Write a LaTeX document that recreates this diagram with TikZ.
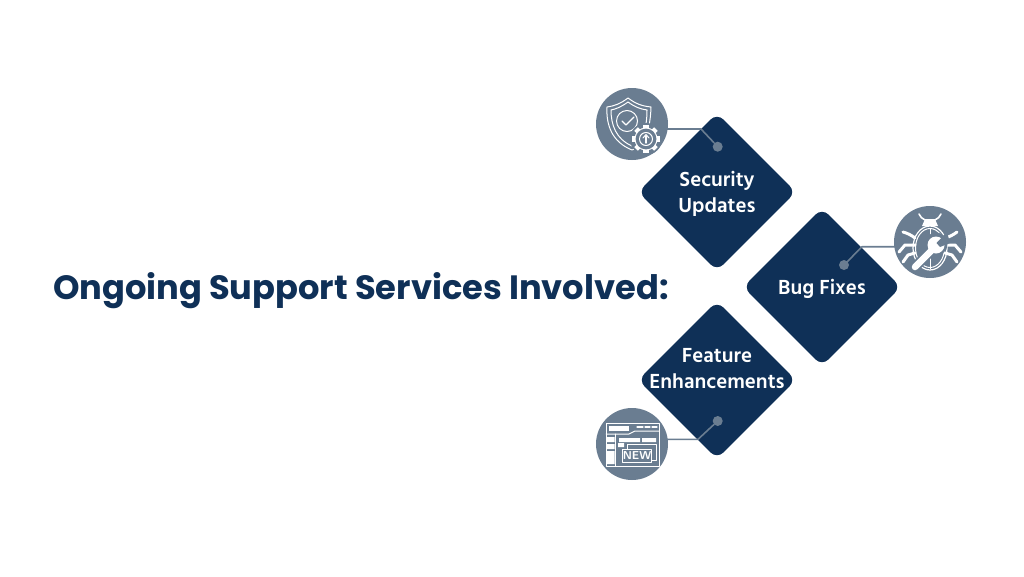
\documentclass[tikz,border=0pt]{standalone}
\usepackage{fontspec}
\setmainfont{Poppins}
\newfontfamily\labelfont{Hind Siliguri}
\usetikzlibrary{shapes.geometric}
\definecolor{navy}{HTML}{0F3057}
\definecolor{slate}{HTML}{6A7D91}
\tikzset{
	tile/.style={shape=diamond, aspect=1, fill=navy, inner sep=0pt, minimum size=158pt, rounded corners=9pt},
	tiletext/.style={text=white, align=center, font=\labelfont\bfseries\fontsize{20.9}{26}\selectfont},
	badge/.style={shape=circle, fill=slate, inner sep=0pt, minimum size=72pt},
	pin/.style={shape=circle, fill=slate, inner sep=0pt, minimum size=10pt},
	lead/.style={slate, line width=1.6pt},
	ink/.style={white, line width=1pt}
}
\begin{document}
\begin{tikzpicture}[x=1pt, y=-1pt, line join=round, line cap=round]
	\useasboundingbox (0,0) rectangle (1024,576);
	\node[anchor=west, text=navy, font=\bfseries\fontsize{33.7}{40}\selectfont] (title) at (49.5,291) {Ongoing Support Services Involved:};
	\node[tile] (security) at (717,192) {};
	\node[tile] (bugs) at (822,287) {};
	\node[tile] (feature) at (717,380) {};
	\node[tiletext] (securitytext) at (717,194) {Security\\Updates};
	\node[tiletext] (bugstext) at (822,288.5) {Bug Fixes};
	\node[tiletext] (featuretext) at (717,369) {Feature\\Enhancements};
	\node[badge] (shieldbadge) at (632,124) {};
	\node[badge] (bugbadge) at (930,242) {};
	\node[badge] (newbadge) at (632,444) {};
	\node[pin] (securitypin) at (717.7,146.7) {};
	\node[pin] (bugspin) at (844,265) {};
	\node[pin] (featurepin) at (717.7,421) {};
	\coordinate (E1) at (701,129); \coordinate (E2) at (862,246.7); \coordinate (E3) at (698,439.3);
	\draw[lead] (shieldbadge.center |- E1) ++(35,0) -- (E1) -- (securitypin);
	\draw[lead] (bugbadge.center |- E2) ++(-35,0) -- (E2) -- (bugspin);
	\draw[lead] (newbadge.center |- E3) ++(35,0) -- (E3) -- (featurepin);
	% shield
	\draw[ink] (628,98) .. controls (620,104) and (614,106) .. (607,107) .. controls (606,125) and (612,142) .. (632,150) .. controls (642,147) and (650,136) .. (651,107) .. controls (642,106) and (636,104) .. (628,98) -- cycle;
	\draw[ink] (628,102) .. controls (621,107) and (616,109) .. (611,110) .. controls (611,125) and (616,139) .. (632,146) .. controls (640,143) and (647,133) .. (647,110) .. controls (640,109) and (635,107) .. (628,102) -- cycle;
	\draw[ink] (627,121) circle (10.5);
	\draw[ink, line width=1.3pt] (622,121) -- (626,125) -- (634,117);
	\fill[slate] (646,139) circle (16);
	\foreach \ang in {0,45,...,315} \fill[white] (646,139) ++(\ang:10) ++(\ang+90:2.6) -- ++(\ang:4) -- ++(\ang-90:5.2) -- ++(\ang:-4) -- cycle;
	\fill[white] (646,139) circle (11.5);
	\fill[slate] (646,139) circle (10.4);
	\draw[ink] (646,139) circle (6.5);
	\draw[ink, line width=1.4pt] (646,143) -- (646,136);
	\draw[ink] (643,138) -- (646,134.5) -- (649,138);
	% bug
	\draw[ink, line width=1.6pt] (919,214) to[bend right=20] (925,220) (941,214) to[bend left=20] (935,220);
	\fill[white] (925,219) -- (935,219) -- (938,226) -- (922,226) -- cycle;
	\draw[ink, line width=1.2pt] (930,248) ellipse (17 and 22);
	\draw[ink] (930,248) ellipse (14.5 and 19.5);
	\draw[ink] (930,229) -- (930,269);
	\foreach \s in {1,-1} {
		\draw[white, line width=3pt] (930-\s*27,232) to[bend left=10] (930-\s*15,238);
		\draw[white, line width=3pt] (930-\s*31,252) -- (930-\s*25,245) -- (930-\s*15,245);
		\draw[white, line width=3pt] (930-\s*27,262) -- (930-\s*22,255) -- (930-\s*15,253);
	}
	\draw[slate, line width=10pt] (915,267) -- (933,249);
	\fill[slate] (936,244) circle (11.5);
	\draw[white, line width=6.5pt] (915,267) -- (932,250);
	\fill[white] (936,245) circle (8.5);
	\fill[slate] (936.5,243) -- (947,232) -- (950,243) -- (940,247) -- cycle;
	% window
	\draw[ink] (606,423) rectangle (659,466);
	\draw[ink] (606,434) -- (629,434) -- (635,431) -- (659,431);
	\draw[ink] (615.5,434) -- (615.5,466);
	\fill[white] (609,426) rectangle (629,431);
	\draw[ink, line width=1.2pt] (637,427) -- (643,427) (645,427) -- (650,427) (652,427) -- (657,427);
	\fill[white] (607,437) rectangle (614.5,442) (607,444) rectangle (614.5,449) (607,451) rectangle (614.5,464);
	\fill[white] (619,438) rectangle (640,442) (642,438) rectangle (656,442) (618,443) rectangle (624,447);
	\draw[ink] (627,444) rectangle (656,460);
	\node[draw=white, fill=slate, line width=1pt, minimum width=28pt, minimum height=13pt, inner sep=0pt, text=white, font=\sffamily\bfseries\fontsize{11.5}{11}\selectfont] (newtag) at (637,455.5) {NEW};
\end{tikzpicture}
\end{document}
